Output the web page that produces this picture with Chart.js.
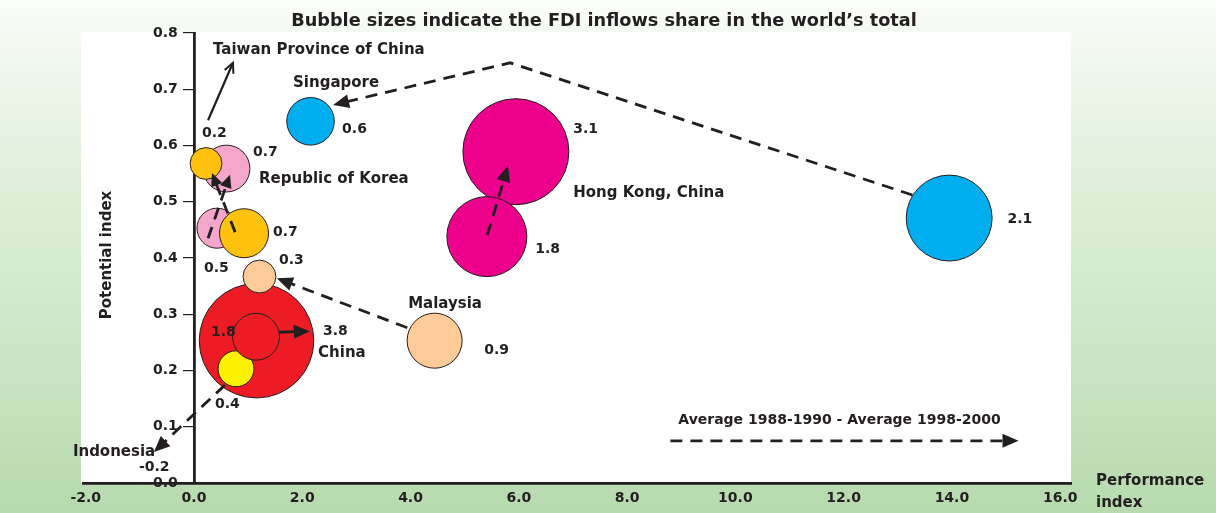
<!DOCTYPE html>
<html><head><meta charset="utf-8">
<script src="https://cdn.jsdelivr.net/npm/chart.js@4.4.1/dist/chart.umd.min.js"></script>
<style>html,body{margin:0;padding:0;background:#fff;}#wrap{width:1216px;height:513px;position:relative;}</style>
</head><body><div id="wrap"><canvas id="c"></canvas></div>
<script>
// ---- data ----
const economies = ['Republic of Korea','Taiwan Province of China','Indonesia','China','Malaysia','Hong Kong, China','Singapore'];
const periods = ['Average 1988-1990','Average 1998-2000'];
// Average 1988-1990
const perf8890  = [0.425, 0.924, 0.776, 1.146, 4.445, 5.41, 13.95];
const pot8890   = [0.453, 0.444, 0.203, 0.260, 0.253, 0.438, 0.471];
const share8890 = [0.5, 0.7, 0.4, 1.8, 0.9, 1.8, 2.1];
const area8890  = [0.46, 0.69, 0.37, 0.63, 0.87, 1.84, 2.12];   // bubble area as drawn (share units)
// Average 1998-2000
const perf9800  = [0.60, 0.222, -0.74, 1.155, 1.21, 5.946, 2.153];
const pot9800   = [0.559, 0.568, 0.055, 0.253, 0.367, 0.589, 0.643];
const share9800 = [0.7, 0.2, -0.2, 3.8, 0.3, 3.1, 0.6];
const area9800  = [0.63, 0.29, 0, 3.77, 0.31, 3.23, 0.65];
const xTickValues = [-2, 0, 2, 4, 6, 8, 10, 12, 14, 16];
const yTickValues = [0, 0.1, 0.2, 0.3, 0.4, 0.5, 0.6, 0.7, 0.8];
const titleText = 'Bubble sizes indicate the FDI inflows share in the world\u2019s total';
const xTitle = ['Performance', 'index'];
const yTitle = 'Potential index';

// ---- styles ----
const INK = '#231F20';
const colors = ['#F4A7CB', '#FFC20E', '#FFF200', '#ED1C24', '#FDCB98', '#EC008C', '#00AEEF'];
const FONT = 'DejaVu Sans';
const RADIUS_K = 29.5;

// ---- annotations (data coordinates) ----
const arrowPaths = [
  {pts: [[0.26,0.645],[0.72,0.747]], dash: false, head: 'open'},
  {pts: [[13.27,0.512],[5.84,0.747],[2.57,0.672]], dash: true, head: 'fill'},
  {pts: [[5.42,0.441],[5.80,0.564]], dash: true, head: 'fill'},
  {pts: [[3.94,0.276],[1.53,0.364]], dash: true, head: 'fill'},
  {pts: [[0.26,0.435],[0.665,0.548]], dash: true, head: 'fill', small: true},
  {pts: [[0.76,0.446],[0.333,0.551]], dash: true, head: 'fill', small: true},
  {pts: [[0.57,0.174],[-0.74,0.055]], dash: true, head: 'fill'},
  {pts: [[1.57,0.268],[2.14,0.270]], dash: false, head: 'fill'},
  {pts: [[8.80,0.075],[15.23,0.075]], dash: true, head: 'fill'}
];
const nameAnchors = [
  {i: 1, x: 0.351, y: 0.770}, {i: 6, x: 1.83, y: 0.711}, {i: 0, x: 1.201, y: 0.540},
  {i: 4, x: 3.956, y: 0.318}, {i: 3, x: 2.292, y: 0.231}, {i: 2, x: -2.237, y: 0.055},
  {i: 5, x: 7.006, y: 0.516}
];
const valueAnchors = [
  {p: 0, i: 0, x: 0.185, y: 0.382}, {p: 1, i: 0, x: 1.091, y: 0.587},
  {p: 0, i: 1, x: 1.46, y: 0.446},  {p: 1, i: 1, x: 0.148, y: 0.622},
  {p: 0, i: 2, x: 0.388, y: 0.139}, {p: 1, i: 2, x: -1.017, y: 0.027},
  {p: 0, i: 3, x: 0.314, y: 0.268}, {p: 1, i: 3, x: 2.384, y: 0.270},
  {p: 0, i: 4, x: 5.36, y: 0.236},  {p: 1, i: 4, x: 1.571, y: 0.396},
  {p: 0, i: 5, x: 6.303, y: 0.416}, {p: 1, i: 5, x: 7.006, y: 0.629},
  {p: 0, i: 6, x: 15.028, y: 0.468},{p: 1, i: 6, x: 2.736, y: 0.628}
];
const legendAnchor = {x: 8.946, y: 0.112};

function build(perf, pot, area) {
  const data = [], bg = [];
  economies.forEach((e, i) => {
    if (area[i] > 0) { data.push({x: perf[i], y: pot[i], r: RADIUS_K * Math.sqrt(area[i])}); bg.push(colors[i]); }
  });
  return {data, bg};
}
const d8890 = build(perf8890, pot8890, area8890);
const d9800 = build(perf9800, pot9800, area9800);

function drawArrow(ctx, pts, a) {
  const n = pts.length;
  const [tx, ty] = pts[n-1], [px, py] = pts[n-2];
  const ang = Math.atan2(ty - py, tx - px);
  const L = a.small ? 13 : 16, W = a.small ? 6 : 7;
  ctx.save();
  ctx.strokeStyle = INK; ctx.fillStyle = INK;
  ctx.lineWidth = a.head === 'open' ? 2.2 : 2.8;
  ctx.lineCap = 'butt';
  ctx.setLineDash(a.dash ? [12, 8] : []);
  ctx.beginPath();
  ctx.moveTo(pts[0][0], pts[0][1]);
  for (let k = 1; k < n - 1; k++) ctx.lineTo(pts[k][0], pts[k][1]);
  if (a.head === 'fill') ctx.lineTo(tx - Math.cos(ang) * L * 0.8, ty - Math.sin(ang) * L * 0.8);
  else ctx.lineTo(tx, ty);
  ctx.stroke();
  ctx.setLineDash([]);
  if (a.head === 'fill') {
    ctx.beginPath();
    ctx.moveTo(tx, ty);
    ctx.lineTo(tx - Math.cos(ang) * L - Math.sin(ang) * W, ty - Math.sin(ang) * L + Math.cos(ang) * W);
    ctx.lineTo(tx - Math.cos(ang) * L + Math.sin(ang) * W, ty - Math.sin(ang) * L - Math.cos(ang) * W);
    ctx.closePath(); ctx.fill();
  } else {
    ctx.lineWidth = 2;
    const h = 11, sp = 0.45;
    ctx.beginPath();
    ctx.moveTo(tx - Math.cos(ang - sp) * h, ty - Math.sin(ang - sp) * h);
    ctx.lineTo(tx, ty);
    ctx.lineTo(tx - Math.cos(ang + sp) * h, ty - Math.sin(ang + sp) * h);
    ctx.stroke();
  }
  ctx.restore();
}

const decor = {
  id: 'decor',
  beforeDraw(chart) {
    const {ctx, width, height, chartArea: ca} = chart;
    ctx.save();
    const g = ctx.createLinearGradient(0, 0, 0, height);
    g.addColorStop(0, '#FAFCF9'); g.addColorStop(0.25, '#E6F2E2');
    g.addColorStop(0.6, '#D0E8CA'); g.addColorStop(1, '#B7DAAE');
    ctx.fillStyle = g; ctx.fillRect(0, 0, width, height);
    ctx.fillStyle = '#FFFFFF';
    ctx.fillRect(ca.left - 2, ca.top - 1, ca.right - ca.left + 2, ca.bottom - ca.top + 1);
    // chart title
    ctx.fillStyle = INK; ctx.textAlign = 'center'; ctx.textBaseline = 'middle';
    ctx.font = 'bold 17.7px "' + FONT + '"';
    ctx.fillText(titleText, 604, 21);
    ctx.restore();
  },
  afterDatasetsDraw(chart) {
    const {ctx} = chart, xs = chart.scales.x, ys = chart.scales.y;
    const P = (x, y) => [xs.getPixelForValue(x), ys.getPixelForValue(y)];
    arrowPaths.forEach(a => drawArrow(ctx, a.pts.map(p => P(p[0], p[1])), a));
    ctx.save();
    ctx.fillStyle = INK; ctx.textAlign = 'left'; ctx.textBaseline = 'middle';
    ctx.font = 'bold 15px "' + FONT + '"';
    nameAnchors.forEach(t => { const [x, y] = P(t.x, t.y); ctx.fillText(economies[t.i], x, y); });
    ctx.font = 'bold 14px "' + FONT + '"';
    const shares = [share8890, share9800];
    valueAnchors.forEach(t => { const [x, y] = P(t.x, t.y); ctx.fillText(shares[t.p][t.i].toFixed(1), x, y); });
    ctx.font = 'bold 14px "' + FONT + '"';
    const [lx, ly] = P(legendAnchor.x, legendAnchor.y);
    ctx.fillText(periods.join(' - '), lx, ly);
    // axis titles
    ctx.font = 'bold 15px "' + FONT + '"';
    ctx.fillText(xTitle[0], 1096, 481);
    ctx.fillText(xTitle[1], 1096, 503);
    ctx.translate(107, 255); ctx.rotate(-Math.PI / 2);
    ctx.textAlign = 'center';
    ctx.fillText(yTitle, 0, 0);
    ctx.restore();
  }
};

const yCommon = {type: 'linear', min: 0, max: 0.8,
  afterBuildTicks: s => { s.ticks = yTickValues.map(v => ({value: v})); }};

new Chart(document.getElementById('c'), {
  type: 'bubble',
  data: {
    datasets: [
      {label: periods[0], data: d8890.data, backgroundColor: d8890.bg, borderColor: INK, borderWidth: 1, order: 0},
      {label: periods[1], data: d9800.data, backgroundColor: d9800.bg, borderColor: INK, borderWidth: 1, order: 1}
    ]
  },
  options: {
    responsive: true, maintainAspectRatio: false, animation: false, events: [],
    layout: {autoPadding: false, padding: {left: 83, right: 145, top: 33, bottom: 0}},
    plugins: {legend: {display: false}, tooltip: {enabled: false}, title: {display: false}},
    scales: {
      x: {
        type: 'linear', position: 'bottom', min: -2.05, max: 16.2,
        afterBuildTicks: s => { s.ticks = xTickValues.map(v => ({value: v})); },
        afterFit: s => { s.height = 30; },
        grid: {display: true, drawOnChartArea: false, drawTicks: false},
        border: {display: true, color: INK, width: 2.8},
        ticks: {padding: 7, color: INK, autoSkip: false, maxRotation: 0,
          font: {family: FONT, size: 14, weight: 'bold'}, callback: v => Number(v).toFixed(1)}
      },
      y: Object.assign({}, yCommon, {
        position: {x: 0},
        afterFit: s => { s.width = 0; },
        grid: {display: true, drawOnChartArea: false, drawTicks: true, tickLength: 10, color: INK, lineWidth: 1.2},
        border: {display: true, color: INK, width: 2.8},
        ticks: {display: false}
      }),
      yl: Object.assign({}, yCommon, {
        axis: 'y',
        position: {x: -0.3},
        afterFit: s => { s.width = 0; },
        grid: {display: false},
        border: {display: false},
        ticks: {padding: 0, color: INK, autoSkip: false,
          font: {family: FONT, size: 14, weight: 'bold'}, callback: v => Number(v).toFixed(1)}
      })
    }
  },
  plugins: [decor]
});
</script>
</body></html>
